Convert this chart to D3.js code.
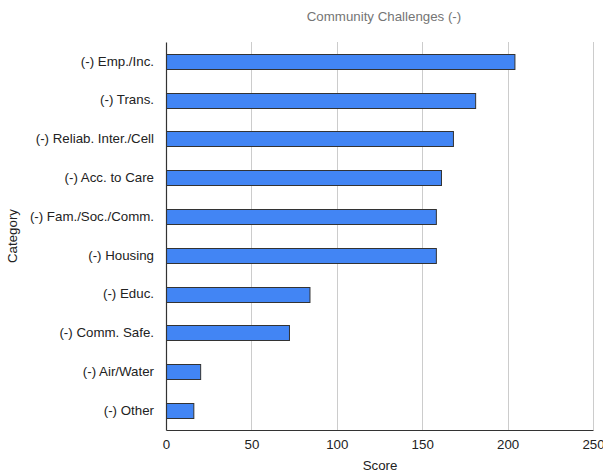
<!DOCTYPE html>
<html>
<head>
<meta charset="utf-8">
<script src="https://cdn.jsdelivr.net/npm/d3@7"></script>
<style>
  body { margin: 0; background: #fff; }
  text { font-family: "Liberation Sans", Arial, sans-serif; }
</style>
</head>
<body>
<svg id="chart" width="603" height="474"></svg>
<script>
// chart data
var categories = ["(-) Emp./Inc.", "(-) Trans.", "(-) Reliab. Inter./Cell", "(-) Acc. to Care",
  "(-) Fam./Soc./Comm.", "(-) Housing", "(-) Educ.", "(-) Comm. Safe.", "(-) Air/Water", "(-) Other"];
var scores = [204, 181, 168, 161, 158, 158, 84, 72, 20, 16];
var xTicks = [0, 50, 100, 150, 200, 250];

var FONT = "13.3px";
var margin = {top: 42, right: 10, bottom: 44, left: 166};
var width = 593 - margin.left,
    height = 430 - margin.top;

var svg = d3.select("#chart");

svg.append("text")
  .attr("x", 384).attr("y", 21)
  .attr("text-anchor", "middle")
  .style("font-size", FONT)
  .style("fill", "#757575")
  .text("Community Challenges (-)");

var g = svg.append("g")
  .attr("transform", "translate(" + margin.left + "," + margin.top + ")");

var x = d3.scaleLinear().domain([0, 250]).range([0, width]);
var y = d3.scaleBand().domain(categories).range([0, height]).paddingInner(0.61).paddingOuter(0.305);

// gridlines
g.selectAll(".grid").data(xTicks.slice(1))
  .enter().append("line")
  .attr("class", "grid")
  .attr("x1", function(d) { return Math.round(x(d)) + 0.5; })
  .attr("x2", function(d) { return Math.round(x(d)) + 0.5; })
  .attr("y1", 0).attr("y2", height)
  .style("stroke", "#cccccc");

// bars
g.selectAll(".bar").data(scores)
  .enter().append("rect")
  .attr("class", "bar")
  .attr("x", 0.5)
  .attr("y", function(d, i) { return Math.round(y(categories[i])) + 0.5; })
  .attr("width", function(d) { return x(d); })
  .attr("height", Math.round(y.bandwidth()))
  .style("fill", "#4285f4")
  .style("stroke", "#333333")
  .style("stroke-width", 1);

// axes
var xAxis = g.append("g")
  .attr("transform", "translate(0," + height + ")")
  .call(d3.axisBottom(x).tickValues(xTicks).tickSize(0).tickPadding(10));
xAxis.select(".domain").style("stroke", "#333").style("stroke-width", 1.2);
xAxis.selectAll("text").style("font-size", FONT).style("fill", "#222")
  .style("font-family", "Liberation Sans, Arial, sans-serif");

var yAxis = g.append("g")
  .call(d3.axisLeft(y).tickSize(0).tickPadding(12));
yAxis.select(".domain").style("stroke", "#333").style("stroke-width", 1.2);
yAxis.selectAll("text").style("font-size", FONT).style("fill", "#222")
  .style("font-family", "Liberation Sans, Arial, sans-serif");

// axis titles
svg.append("text")
  .attr("x", 380).attr("y", 470)
  .attr("text-anchor", "middle")
  .style("font-size", FONT).style("fill", "#222")
  .text("Score");

svg.append("text")
  .attr("transform", "translate(17,236) rotate(-90)")
  .attr("text-anchor", "middle")
  .style("font-size", FONT).style("fill", "#222")
  .text("Category");
</script>
</body>
</html>
